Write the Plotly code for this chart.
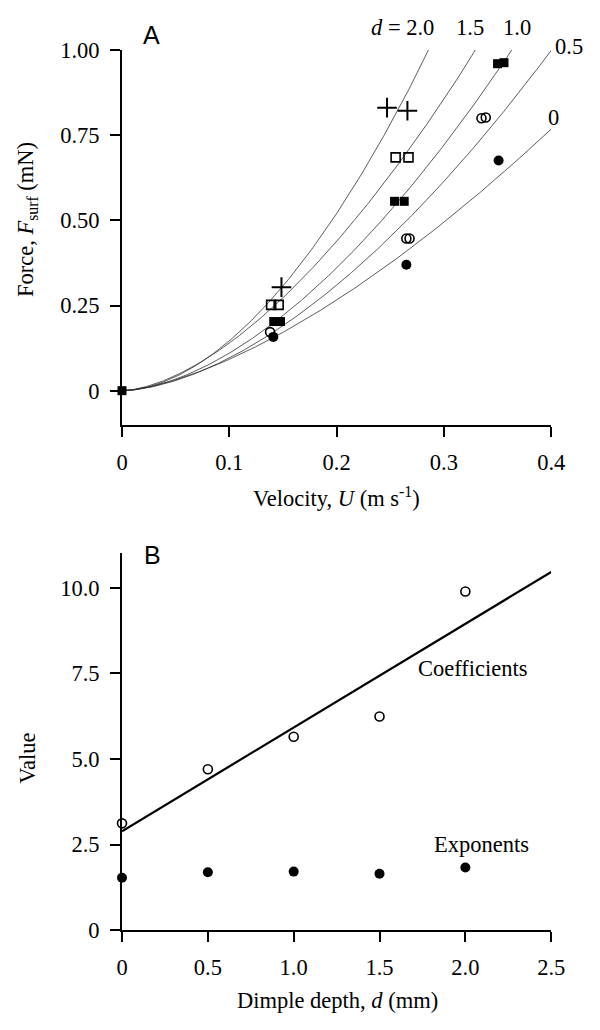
import numpy as np
import plotly.graph_objects as go

# ---------------- Data ----------------
# Panel B: fitted coefficients and exponents vs dimple depth
depth = [0, 0.5, 1.0, 1.5, 2.0]
coefficients = [3.12, 4.70, 5.65, 6.24, 9.89]
exponents = [1.53, 1.69, 1.71, 1.65, 1.83]
fit_x = [0, 2.5]
fit_y = [2.89, 10.46]

# Panel A: measured force vs velocity for each dimple depth
d0_u = [0.141, 0.265, 0.351]
d0_f = [0.158, 0.370, 0.676]
d05_u = [0.138, 0.265, 0.268, 0.335, 0.339]
d05_f = [0.172, 0.447, 0.447, 0.800, 0.802]
d10_u = [0.0, 0.1414, 0.1477, 0.254, 0.263, 0.350, 0.356]
d10_f = [0.0, 0.203, 0.203, 0.556, 0.556, 0.960, 0.963]
d15_u = [0.139, 0.146, 0.255, 0.267]
d15_f = [0.252, 0.252, 0.685, 0.685]
d20_u = [0.1486, 0.247, 0.266]
d20_f = [0.304, 0.831, 0.822]

curve_labels = ["<i>d</i> = 2.0", "1.5", "1.0", "0.5", "0"]

a_xticks = [0, 0.1, 0.2, 0.3, 0.4]
a_xtext = ["0", "0.1", "0.2", "0.3", "0.4"]
a_yticks = [0, 0.25, 0.5, 0.75, 1.0]
a_ytext = ["0", "0.25", "0.50", "0.75", "1.00"]
b_xticks = [0, 0.5, 1.0, 1.5, 2.0, 2.5]
b_xtext = ["0", "0.5", "1.0", "1.5", "2.0", "2.5"]
b_yticks = [0, 2.5, 5.0, 7.5, 10.0]
b_ytext = ["0", "2.5", "5.0", "7.5", "10.0"]

SERIF = "Liberation Serif"
SANS = "Liberation Sans"
FS = 22.5

fig = go.Figure()

# Fitted power-law curves F = a U^b (parameters from panel B)
u = np.linspace(0, 0.4, 300)
for a, b in zip(coefficients, exponents):
    fig.add_trace(go.Scatter(x=u, y=a * u ** b, mode="lines",
                             line=dict(color="#333333", width=0.8),
                             xaxis="x", yaxis="y", hoverinfo="skip"))

mk_line = dict(color="black", width=1.6)
fig.add_trace(go.Scatter(x=d0_u, y=d0_f, mode="markers", cliponaxis=False,
                         marker=dict(symbol="circle", size=10, color="black"),
                         xaxis="x", yaxis="y"))
fig.add_trace(go.Scatter(x=d05_u, y=d05_f, mode="markers", cliponaxis=False,
                         marker=dict(symbol="circle-open", size=9, color="black", line=mk_line),
                         xaxis="x", yaxis="y"))
fig.add_trace(go.Scatter(x=d10_u, y=d10_f, mode="markers", cliponaxis=False,
                         marker=dict(symbol="square", size=9, color="black"),
                         xaxis="x", yaxis="y"))
fig.add_trace(go.Scatter(x=d15_u, y=d15_f, mode="markers", cliponaxis=False,
                         marker=dict(symbol="square-open", size=9, color="black", line=mk_line),
                         xaxis="x", yaxis="y"))
fig.add_trace(go.Scatter(x=d20_u, y=d20_f, mode="markers", cliponaxis=False,
                         marker=dict(symbol="cross-thin-open", size=14, color="black",
                                     line=dict(color="black", width=2)),
                         xaxis="x", yaxis="y"))

# Panel B
fig.add_trace(go.Scatter(x=fit_x, y=fit_y, mode="lines",
                         line=dict(color="black", width=2.2),
                         xaxis="x2", yaxis="y2"))
fig.add_trace(go.Scatter(x=depth, y=coefficients, mode="markers", cliponaxis=False,
                         marker=dict(symbol="circle", size=9, color="white",
                                     line=dict(color="black", width=1.6)),
                         xaxis="x2", yaxis="y2"))
fig.add_trace(go.Scatter(x=depth, y=exponents, mode="markers", cliponaxis=False,
                         marker=dict(symbol="circle", size=10, color="black"),
                         xaxis="x2", yaxis="y2"))

axis_common = dict(showline=True, linecolor="black", linewidth=2,
                   ticks="outside", ticklen=10, tickwidth=2, tickcolor="black",
                   showgrid=False, zeroline=False, mirror=False,
                   tickfont=dict(family=SERIF, size=FS, color="black"),
                   ticklabelstandoff=6)

fig.update_layout(
    width=600, height=1030,
    margin=dict(l=0, r=0, t=0, b=0),
    paper_bgcolor="white", plot_bgcolor="white",
    showlegend=False,
    xaxis=dict(domain=[0.2, 0.94], range=[0, 0.4], tickvals=a_xticks, ticktext=a_xtext,
               anchor="y", **axis_common),
    yaxis=dict(domain=[0.5893, 0.9621], range=[-0.1, 1.0], tickvals=a_yticks, ticktext=a_ytext,
               anchor="x", **axis_common),
    xaxis2=dict(domain=[0.2, 0.94], range=[0, 2.5], tickvals=b_xticks, ticktext=b_xtext,
                anchor="y2", **axis_common),
    yaxis2=dict(domain=[0.0864, 0.4612], range=[0, 11], tickvals=b_yticks, ticktext=b_ytext,
                anchor="x2", **axis_common),
)

def ann(text, x, y, size=FS, family=SERIF, angle=0):
    fig.add_annotation(text=text, x=x / 600, y=1 - y / 1030, xref="paper", yref="paper",
                       showarrow=False, textangle=angle, xanchor="center", yanchor="middle",
                       font=dict(family=family, size=size, color="black"))

# Panel letters
ann("A", 150, 24, size=25, family=SANS)
ann("B", 152, 557, size=25, family=SANS)

# Axis titles
ann("Velocity, <i>U</i> (m s<sup>-1</sup>)", 342, 497)
ann("Force, <i>F</i><sub>surf</sub> (mN)", 22, 213, angle=-90)
ann("Dimple depth, <i>d</i> (mm)", 343, 1013)
ann("Value", 22, 765, angle=-90)

# Curve labels
label_pos = [(410, 16), (480, 16), (529, 16), (582, 35), (566, 108)]
for t, (px, py) in zip(curve_labels, label_pos):
    ann(t, px, py)

# Series labels in panel B
ann("Coefficients", 483, 673)
ann("Exponents", 492, 853)

fig.write_html("out.html")
